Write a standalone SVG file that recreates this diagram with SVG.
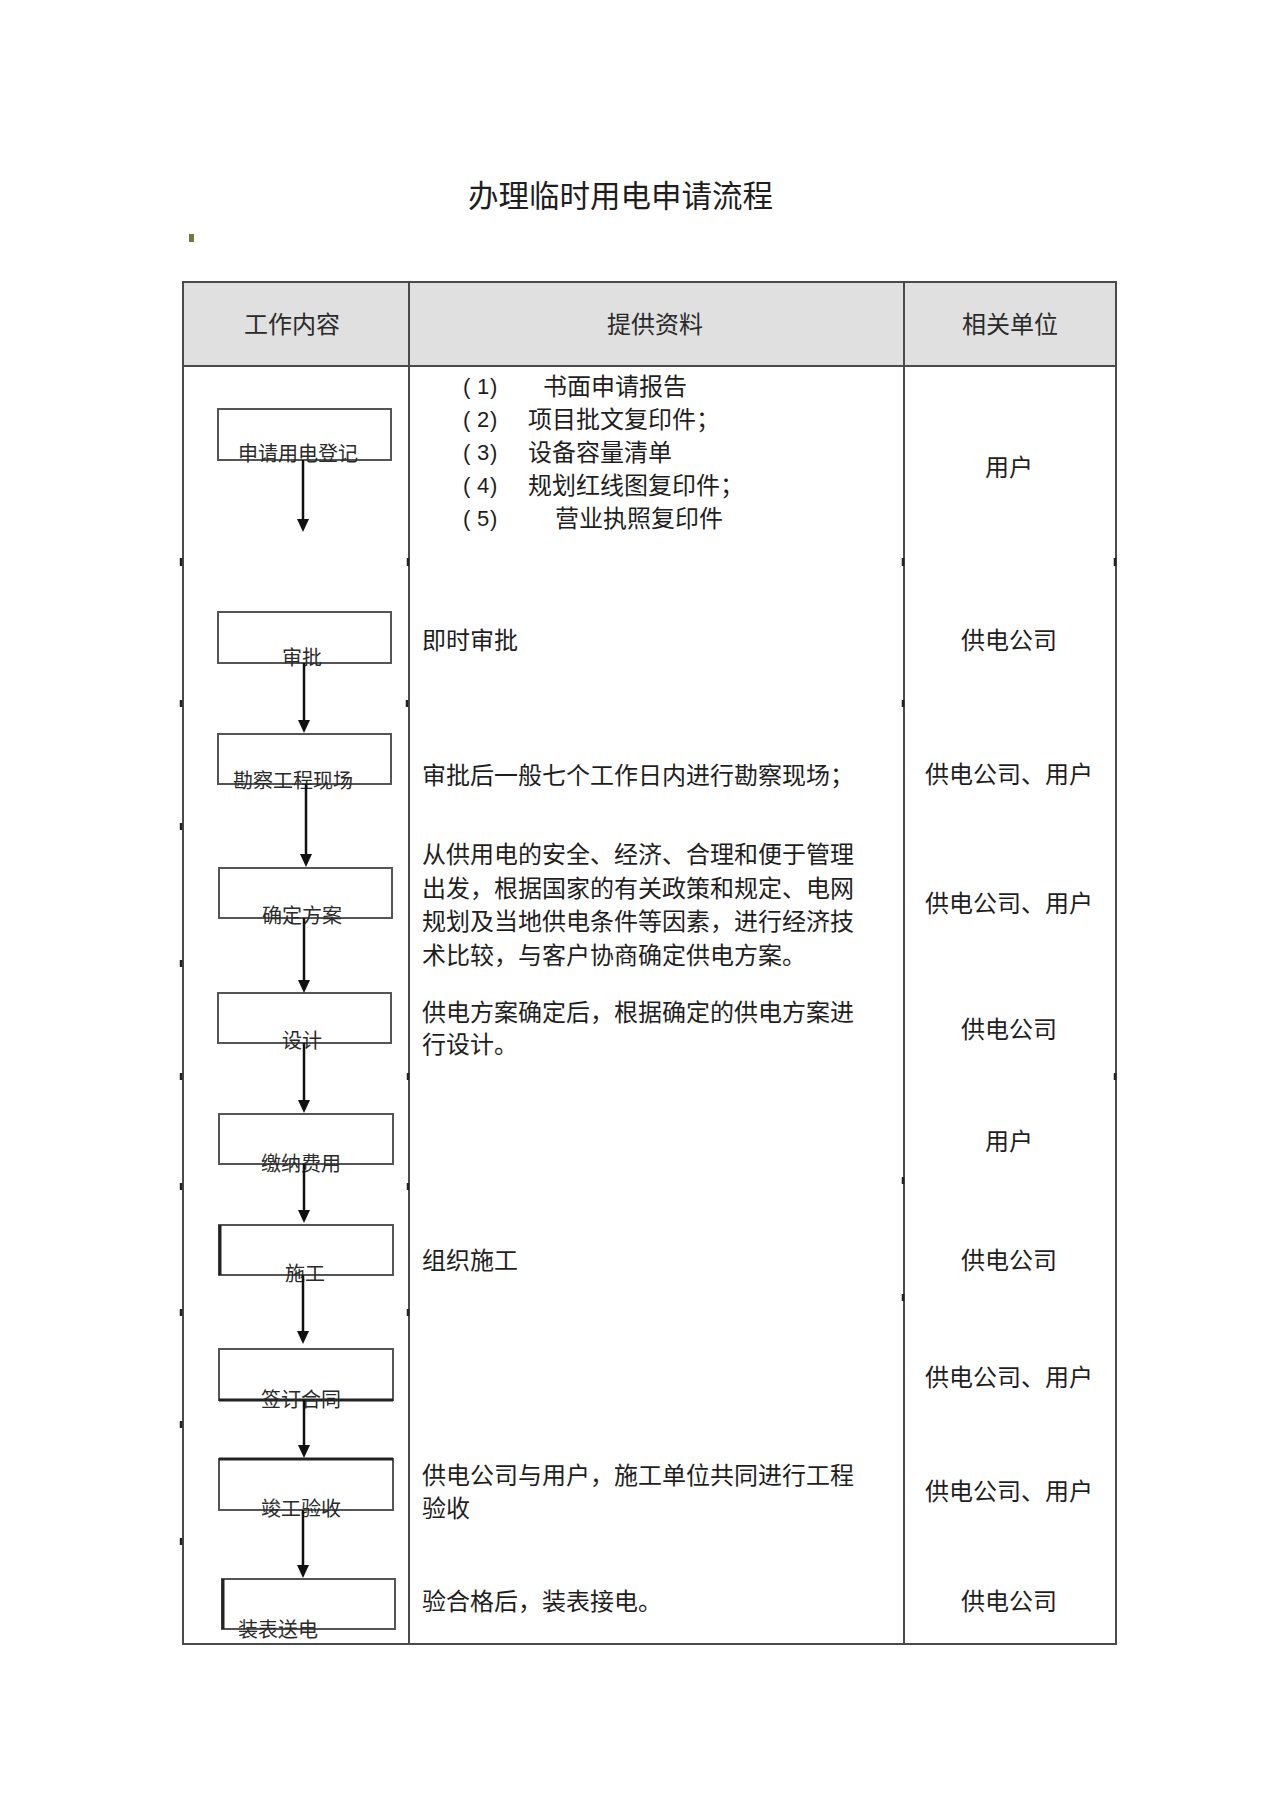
<svg xmlns="http://www.w3.org/2000/svg" width="1275" height="1804" viewBox="0 0 1275 1804">
<style>
text{font-family:"Noto Sans CJK SC","Noto Sans",sans-serif;fill:#1e1e1e}
.t{font-size:24px}
.c{font-size:24px;text-anchor:middle}
.h{font-size:24px;fill:#2a2a2a}
.nl{font-size:20px;fill:#2a2a2a}
.num{font-family:"Liberation Sans",Arial,sans-serif;font-size:22px}
.grid{stroke:#4a4a4a;stroke-width:2;fill:none}
.tick{stroke:#222;stroke-width:2.5}
.node rect{fill:none;stroke:#555;stroke-width:2}
.conn line{stroke:#111;stroke-width:2.5}
</style>
<defs>
<marker id="ah" viewBox="0 0 13 12" refX="9" refY="6" markerWidth="13" markerHeight="12" markerUnits="userSpaceOnUse" orient="auto">
<path d="M0,0 L13,6 L0,12 z" fill="#111"/>
</marker>
</defs>
<rect width="1275" height="1804" fill="#fff"/>
<text x="468" y="207" style="font-size:30.5px">办理临时用电申请流程</text>
<rect x="189" y="234" width="5" height="8" fill="#6f7d3e"/>

<g id="table">
<rect x="183" y="282" width="933" height="84" fill="#e0e0e0"/>
<rect class="grid" x="183" y="282" width="933" height="1362"/>
<line class="grid" x1="183" y1="366" x2="1116" y2="366"/>
<line class="grid" x1="409" y1="282" x2="409" y2="1644"/>
<line class="grid" x1="904" y1="282" x2="904" y2="1644"/>
<g class="tick">
<line x1="181" y1="558" x2="181" y2="566"/><line x1="408" y1="558" x2="408" y2="566"/><line x1="903" y1="558" x2="903" y2="566"/><line x1="1115" y1="558" x2="1115" y2="566"/>
<line x1="181" y1="700" x2="181" y2="707"/><line x1="407" y1="700" x2="407" y2="707"/><line x1="903" y1="700" x2="903" y2="707"/>
<line x1="181" y1="823" x2="181" y2="830"/>
<line x1="181" y1="960" x2="181" y2="967"/><line x1="1115" y1="1073" x2="1115" y2="1080"/>
<line x1="181" y1="1073" x2="181" y2="1080"/><line x1="408" y1="1073" x2="408" y2="1080"/>
<line x1="181" y1="1183" x2="181" y2="1190"/><line x1="408" y1="1183" x2="408" y2="1190"/><line x1="903" y1="1177" x2="903" y2="1184"/>
<line x1="181" y1="1309" x2="181" y2="1316"/><line x1="408" y1="1309" x2="408" y2="1316"/><line x1="903" y1="1294" x2="903" y2="1301"/>
<line x1="181" y1="1421" x2="181" y2="1428"/>
<line x1="181" y1="1538" x2="181" y2="1545"/>
</g>
<text class="h" x="244" y="333">工作内容</text>
<text class="h" x="607" y="333">提供资料</text>
<text class="h" x="962" y="333">相关单位</text>
</g>

<g id="materials">
<text class="num" x="463 477 490" y="394">(1)</text><text class="t" x="543" y="395">书面申请报告</text>
<text class="num" x="463 477 490" y="427">(2)</text><text class="t" x="528" y="428">项目批文复印件；</text>
<text class="num" x="463 477 490" y="460">(3)</text><text class="t" x="528" y="461">设备容量清单</text>
<text class="num" x="463 477 490" y="493">(4)</text><text class="t" x="528" y="494">规划红线图复印件；</text>
<text class="num" x="463 477 490" y="526">(5)</text><text class="t" x="555" y="527">营业执照复印件</text>
<text class="t" x="422" y="649">即时审批</text>
<text class="t" x="422" y="784">审批后一般七个工作日内进行勘察现场；</text>
<text class="t" x="422" y="863">从供用电的安全、经济、合理和便于管理</text>
<text class="t" x="422" y="897">出发，根据国家的有关政策和规定、电网</text>
<text class="t" x="422" y="930">规划及当地供电条件等因素，进行经济技</text>
<text class="t" x="422" y="964">术比较，与客户协商确定供电方案。</text>
<text class="t" x="422" y="1021">供电方案确定后，根据确定的供电方案进</text>
<text class="t" x="422" y="1053">行设计。</text>
<text class="t" x="422" y="1269">组织施工</text>
<text class="t" x="422" y="1484">供电公司与用户，施工单位共同进行工程</text>
<text class="t" x="422" y="1517">验收</text>
<text class="t" x="422" y="1610">验合格后，装表接电。</text>
</g>

<g id="units">
<text class="c" x="1009" y="476">用户</text>
<text class="c" x="1009" y="649">供电公司</text>
<text class="c" x="1009" y="783">供电公司、用户</text>
<text class="c" x="1009" y="912">供电公司、用户</text>
<text class="c" x="1009" y="1038">供电公司</text>
<text class="c" x="1009" y="1150">用户</text>
<text class="c" x="1009" y="1269">供电公司</text>
<text class="c" x="1009" y="1386">供电公司、用户</text>
<text class="c" x="1009" y="1500">供电公司、用户</text>
<text class="c" x="1009" y="1610">供电公司</text>
</g>

<g id="n1" class="node"><rect x="218" y="409" width="173" height="51"/><text class="nl" x="238" y="461">申请用电登记</text></g>
<g id="n2" class="node"><rect x="218" y="612" width="173" height="51"/><text class="nl" x="282" y="665">审批</text></g>
<g id="n3" class="node"><rect x="218" y="734" width="173" height="50"/><text class="nl" x="233" y="788">勘察工程现场</text></g>
<g id="n4" class="node"><rect x="219" y="868" width="173" height="50"/><text class="nl" x="262" y="923">确定方案</text></g>
<g id="n5" class="node"><rect x="218" y="993" width="173" height="50"/><text class="nl" x="282" y="1048">设计</text></g>
<g id="n6" class="node"><rect x="219" y="1114" width="174" height="50"/><text class="nl" x="261" y="1171">缴纳费用</text></g>
<g id="n7" class="node"><rect x="219" y="1225" width="174" height="50"/><line x1="220" y1="1225" x2="220" y2="1275" stroke="#222" stroke-width="3"/><text class="nl" x="285" y="1281">施工</text></g>
<g id="n8" class="node"><rect x="219" y="1349" width="174" height="51"/><line x1="219" y1="1400" x2="393" y2="1400" stroke="#222" stroke-width="3"/><text class="nl" x="261" y="1407">签订合同</text></g>
<g id="n9" class="node"><rect x="219" y="1459" width="174" height="51"/><line x1="219" y1="1459" x2="393" y2="1459" stroke="#222" stroke-width="3"/><text class="nl" x="261" y="1516">竣工验收</text></g>
<g id="n10" class="node"><rect x="222" y="1579" width="173" height="50"/><line x1="223" y1="1579" x2="223" y2="1629" stroke="#222" stroke-width="3"/><text class="nl" x="238" y="1637">装表送电</text></g>

<g id="connectors" class="conn">
<line x1="303" y1="460" x2="303" y2="528" marker-end="url(#ah)"/>
<line x1="304" y1="663" x2="304" y2="729" marker-end="url(#ah)"/>
<line x1="306" y1="784" x2="306" y2="863" marker-end="url(#ah)"/>
<line x1="304" y1="918" x2="304" y2="989" marker-end="url(#ah)"/>
<line x1="304" y1="1043" x2="304" y2="1109" marker-end="url(#ah)"/>
<line x1="304" y1="1164" x2="304" y2="1219" marker-end="url(#ah)"/>
<line x1="303" y1="1275" x2="303" y2="1340" marker-end="url(#ah)"/>
<line x1="304" y1="1400" x2="304" y2="1454" marker-end="url(#ah)"/>
<line x1="303" y1="1510" x2="303" y2="1574" marker-end="url(#ah)"/>
</g>
</svg>
